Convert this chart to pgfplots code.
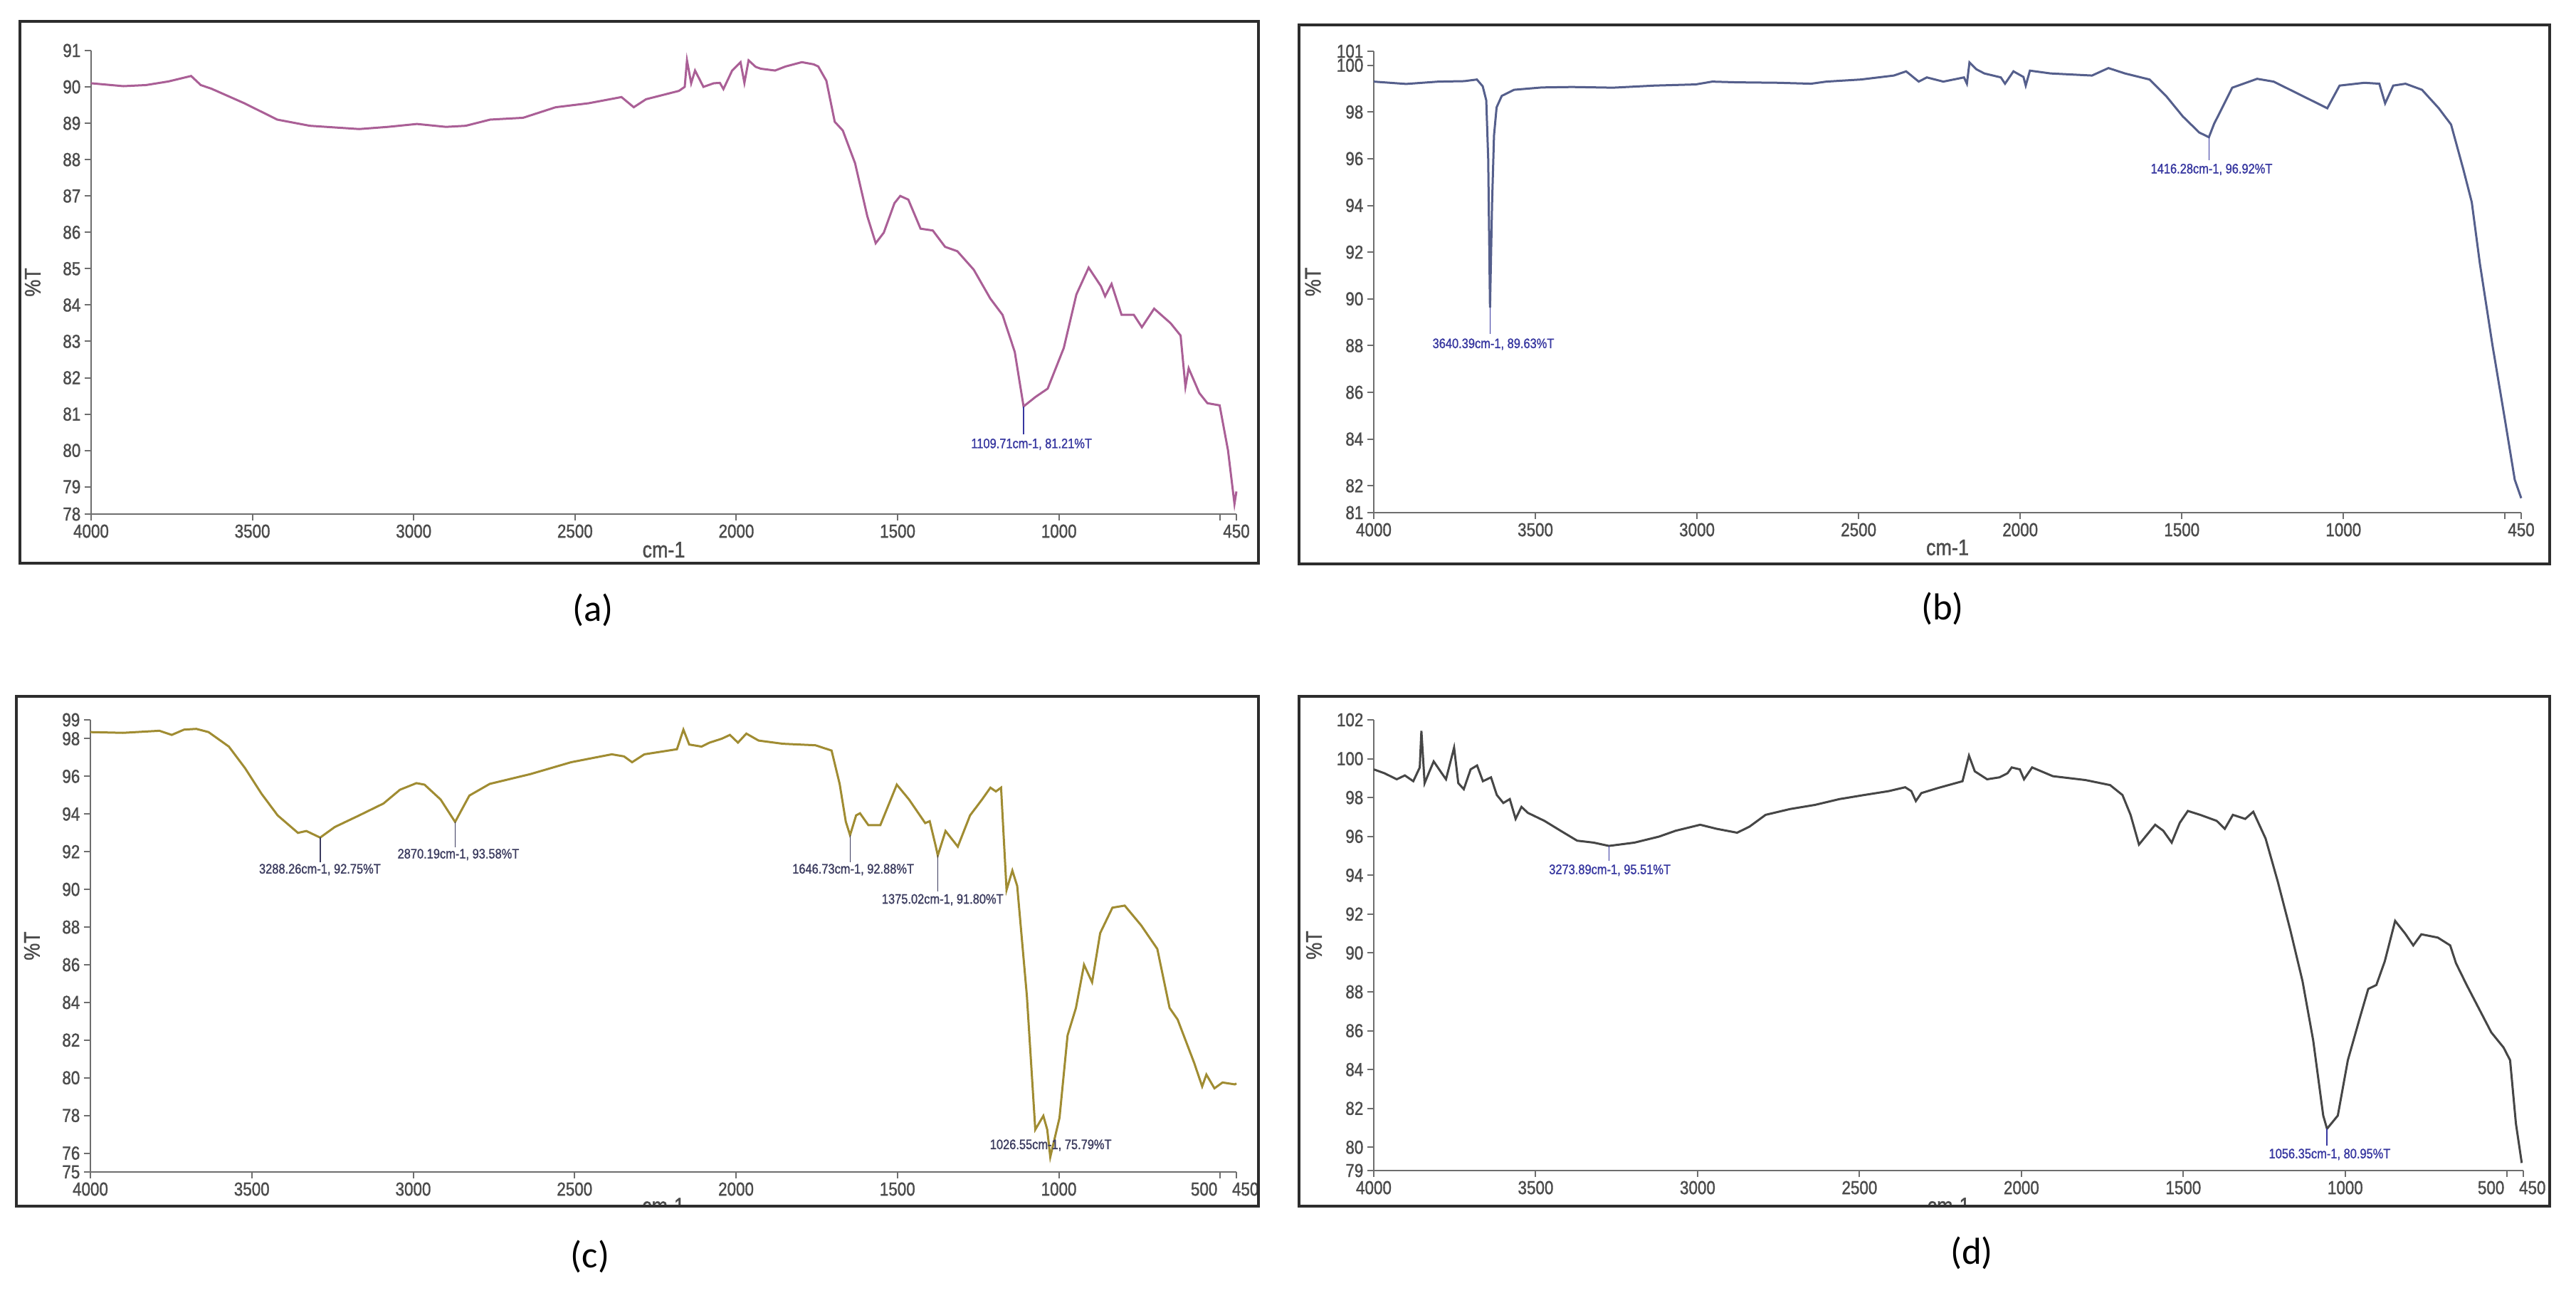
\documentclass[border=0pt]{standalone}
\usepackage{pgfplots}
\pgfplotsset{compat=1.18}
\usepackage{fontspec}
\setmainfont{Liberation Sans}
\newfontfamily\tickfont[FakeStretch=0.85,FakeBold=1.2]{Liberation Sans}
\newfontfamily\capfont{Carlito}

\definecolor{axgray}{RGB}{110,110,110}
\definecolor{tickgray}{RGB}{75,75,75}
\definecolor{framec}{RGB}{45,45,45}
\definecolor{annblue}{RGB}{55,55,160}
\definecolor{anngray}{RGB}{60,60,95}
\definecolor{ca}{RGB}{170,95,150}
\definecolor{cb}{RGB}{85,95,140}
\definecolor{cc}{RGB}{160,140,50}
\definecolor{cd}{RGB}{70,70,70}

\pgfplotsset{
  ir/.style={
    scale only axis, anchor=south west, clip=false,
    x dir=reverse, xmin=450, xmax=4000,
    axis x line*=bottom, axis y line*=left,
    axis line style={axgray, line width=0.25mm},
    tick align=outside, major tick length=0.9mm,
    tick style={axgray, line width=0.2mm},
    ticklabel style={font=\tickfont\fontsize{7.5}{8}\selectfont, text=tickgray, inner sep=0.5mm},
    /pgf/number format/assume math mode=true,
    xlabel={cm-1}, ylabel={\%T},
    label style={font=\tickfont\fontsize{9}{10}\selectfont, text=tickgray},
  },
}
\tikzset{ann/.style={font=\tickfont\fontsize{5.5}{6}\selectfont, text=annblue, inner sep=0pt}}

\begin{document}
\begin{tikzpicture}[x=1mm,y=1mm]
\path[use as bounding box] (0,0) rectangle (361.9,182.2);
\fill[white] (0,0) rectangle (361.9,182.2);

% (a)
\begin{axis}[ir, at={(12.8mm,110.0mm)}, width=160.9mm, height=65.1mm,
  ymin=78.25, ymax=91,
  ytick={78.25,79,80,81,82,83,84,85,86,87,88,89,90,91},
  yticklabels={78,79,80,81,82,83,84,85,86,87,88,89,90,91},
  xtick={450,500,1000,1500,2000,2500,3000,3500,4000},
  xticklabels={450,{},1000,1500,2000,2500,3000,3500,4000},
  xlabel style={at={(axis description cs:0.5,-0.077)}, anchor=center},
  ylabel style={at={(axis description cs:-0.051,0.5)}, anchor=center}]
\addplot[ca, line width=0.3mm] coordinates {
(4000,90.1) (3900,90.02) (3830,90.05) (3760,90.15) (3690,90.3) (3660,90.05)
(3627,89.95) (3525,89.55) (3423,89.1) (3322,88.93) (3169,88.84) (3080,88.9)
(2990,88.98) (2900,88.9) (2839,88.93) (2763,89.1) (2661,89.15) (2560,89.44)
(2458,89.55) (2356,89.72) (2318,89.44) (2280,89.66) (2178,89.89) (2160,90.0)
(2153,90.73) (2140,90.1) (2128,90.45) (2102,90.0) (2070,90.1) (2051,90.11)
(2040,89.94) (2013,90.45) (1987,90.68) (1975,90.11) (1962,90.73) (1940,90.55)
(1924,90.5) (1880,90.45) (1848,90.56) (1797,90.68) (1760,90.62) (1746,90.56)
(1721,90.17) (1695,89.04) (1670,88.8) (1632,87.9) (1594,86.44) (1568,85.7)
(1543,85.99) (1510,86.8) (1492,87.0) (1467,86.9) (1429,86.1) (1391,86.05)
(1353,85.6) (1315,85.48) (1264,84.97) (1213,84.18) (1175,83.73) (1137,82.71)
(1109.71,81.21) (1073,81.47) (1035,81.7) (985,82.82) (946,84.29) (908,85.03)
(870,84.52) (857,84.24) (837,84.58) (806,83.73) (768,83.73) (743,83.39)
(705,83.9) (654,83.5) (623,83.16) (608,81.75) (598,82.26) (565,81.58)
(540,81.3) (502,81.24) (476,80.0) (456,78.53) (450,78.87)
};
\addplot[annblue, line width=0.15mm] coordinates {(1109.71,81.21) (1109.71,80.45)};
\node[ann] at (axis cs:1085,80.17) {1109.71cm-1, 81.21\%T};
\end{axis}

% (b)
\begin{axis}[ir, at={(193.0mm,110.2mm)}, width=161.2mm, height=64.8mm,
  ymin=80.85, ymax=100.6,
  ytick={80.85,82,84,86,88,90,92,94,96,98,100,100.6},
  yticklabels={81,82,84,86,88,90,92,94,96,98,100,101},
  xtick={450,500,1000,1500,2000,2500,3000,3500,4000},
  xticklabels={450,{},1000,1500,2000,2500,3000,3500,4000},
  xlabel style={at={(axis description cs:0.5,-0.0756)}, anchor=center},
  ylabel style={at={(axis description cs:-0.053,0.5)}, anchor=center}]
\addplot[cb, line width=0.3mm] coordinates {
(4000,99.3) (3900,99.2) (3800,99.3) (3720,99.32) (3681,99.39) (3663,99.1)
(3652,98.5) (3646,96.0) (3640.39,89.63) (3634,94.1) (3628,97.0) (3620,98.2)
(3604,98.69) (3566,98.95) (3480,99.05) (3387,99.07) (3260,99.04) (3132,99.13)
(3004,99.18) (2953,99.3) (2876,99.27) (2749,99.25) (2647,99.21) (2600,99.3)
(2493,99.39) (2391,99.56) (2353,99.74) (2314,99.3) (2289,99.48) (2238,99.3)
(2174,99.48) (2165,99.21) (2157,100.12) (2136,99.83) (2111,99.65) (2060,99.48)
(2047,99.21) (2021,99.74) (1990,99.5) (1983,99.13) (1970,99.77) (1906,99.65)
(1778,99.56) (1727,99.88) (1676,99.65) (1600,99.39) (1549,98.69) (1497,97.81)
(1446,97.12) (1425,96.98) (1416.28,96.92) (1400,97.5) (1382,97.99) (1344,99.04)
(1267,99.42) (1216,99.3) (1114,98.6) (1050,98.16) (1012,99.13) (935,99.25)
(889,99.21) (871,98.37) (846,99.13) (808,99.21) (757,98.95) (705,98.16)
(667,97.46) (629,95.54) (603,94.14) (578,91.52) (539,88.02) (501,84.88)
(470,82.26) (450,81.47)
};
\addplot[annblue, line width=0.15mm] coordinates {(3640.39,89.63) (3640.39,88.5)};
\addplot[annblue, line width=0.15mm] coordinates {(1416.28,96.92) (1416.28,95.95)};
\node[ann] at (axis cs:3630,88.06) {3640.39cm-1, 89.63\%T};
\node[ann] at (axis cs:1408,95.54) {1416.28cm-1, 96.92\%T};
\end{axis}

% (c)
\begin{scope}
\clip (2.3,12.8) rectangle (176.8,84.4);
\begin{axis}[ir, at={(12.7mm,17.6mm)}, width=161.0mm, height=63.5mm,
  ymin=75, ymax=99,
  ytick={75,76,78,80,82,84,86,88,90,92,94,96,98,99},
  yticklabels={75,76,78,80,82,84,86,88,90,92,94,96,98,99},
  xtick={450,500,1000,1500,2000,2500,3000,3500,4000},
  xticklabels={\makebox[0pt][l]{\hspace{-0.6mm}450},\makebox[0pt][r]{500\hspace{0.4mm}},1000,1500,2000,2500,3000,3500,4000},
  xlabel style={at={(axis description cs:0.5,-0.075)}, anchor=center},
  ylabel style={at={(axis description cs:-0.051,0.5)}, anchor=center}]
\addplot[cc, line width=0.3mm] coordinates {
(4000,98.35) (3899,98.31) (3786,98.42) (3748,98.2) (3710,98.48) (3672,98.52)
(3634,98.35) (3571,97.58) (3521,96.44) (3470,95.08) (3420,93.93) (3357,93.0)
(3331,93.1) (3288.26,92.75) (3243,93.31) (3167,93.93) (3092,94.56) (3041,95.29)
(2990,95.64) (2965,95.56) (2915,94.77) (2870.19,93.58) (2826,94.98) (2763,95.6)
(2637,96.12) (2511,96.75) (2385,97.17) (2347,97.06) (2322,96.75) (2284,97.17)
(2183,97.44) (2163,98.48) (2145,97.69) (2107,97.58) (2082,97.79) (2044,98.0)
(2019,98.2) (1994,97.79) (1968,98.27) (1930,97.9) (1855,97.73) (1754,97.65)
(1704,97.37) (1679,95.6) (1660,93.6) (1646.73,92.88) (1628,93.93) (1616,94.04)
(1590,93.41) (1553,93.41) (1502,95.56) (1464,94.77) (1414,93.52) (1400,93.62)
(1381,92.27) (1375.02,91.8) (1351,93.1) (1313,92.27) (1275,93.93) (1238,94.77)
(1212,95.4) (1195,95.2) (1179,95.4) (1162,89.97) (1144,91.0) (1129,90.18)
(1099,84.34) (1073,77.25) (1048,77.98) (1036,77.25) (1026.55,75.79) (998,77.87)
(973,82.25) (947,83.71) (922,86.0) (897,85.07) (872,87.68) (834,89.03)
(796,89.14) (745,88.09) (695,86.84) (657,83.71) (632,83.09) (581,80.8)
(556,79.54) (543,80.17) (518,79.44) (493,79.75) (455,79.65) (450,79.7)
};
\addplot[anngray, line width=0.15mm] coordinates {(3288.26,92.75) (3288.26,91.45)};
\addplot[anngray, line width=0.15mm] coordinates {(2870.19,93.58) (2870.19,92.25)};
\addplot[anngray, line width=0.15mm] coordinates {(1646.73,92.88) (1646.73,91.45)};
\addplot[anngray, line width=0.15mm] coordinates {(1375.02,91.8) (1375.02,89.9)};
\node[ann, text=anngray] at (axis cs:3289,91.05) {3288.26cm-1, 92.75\%T};
\node[ann, text=anngray] at (axis cs:2860,91.85) {2870.19cm-1, 93.58\%T};
\node[ann, text=anngray] at (axis cs:1637,91.05) {1646.73cm-1, 92.88\%T};
\node[ann, text=anngray] at (axis cs:1360,89.45) {1375.02cm-1, 91.80\%T};
\node[ann, text=anngray] at (axis cs:1025,76.42) {1026.55cm-1, 75.79\%T};
\end{axis}
\end{scope}

% (d)
\begin{scope}
\clip (182.5,12.8) rectangle (358.2,84.4);
\begin{axis}[ir, at={(193.0mm,17.8mm)}, width=161.5mm, height=63.3mm,
  ymin=78.8, ymax=102,
  ytick={78.8,80,82,84,86,88,90,92,94,96,98,100,102},
  yticklabels={79,80,82,84,86,88,90,92,94,96,98,100,102},
  xtick={450,500,1000,1500,2000,2500,3000,3500,4000},
  xticklabels={\makebox[0pt][l]{\hspace{-0.6mm}450},\makebox[0pt][r]{500\hspace{0.4mm}},1000,1500,2000,2500,3000,3500,4000},
  xlabel style={at={(axis description cs:0.5,-0.078)}, anchor=center},
  ylabel style={at={(axis description cs:-0.052,0.5)}, anchor=center}]
\addplot[cd, line width=0.3mm] coordinates {
(4000,99.45) (3967,99.25) (3929,98.94) (3904,99.14) (3878,98.84) (3858,99.55)
(3853,101.43) (3843,98.74) (3828,99.35) (3815,99.86) (3790,99.25) (3777,98.94)
(3752,100.57) (3739,98.74) (3722,98.43) (3701,99.45) (3681,99.65) (3663,98.84)
(3638,99.04) (3620,98.13) (3600,97.72) (3580,97.92) (3562,96.9) (3544,97.52)
(3524,97.21) (3473,96.8) (3423,96.29) (3372,95.78) (3321,95.68) (3273.89,95.51)
(3195,95.68) (3119,95.99) (3068,96.29) (2992,96.6) (2941,96.39) (2878,96.19)
(2840,96.5) (2790,97.11) (2714,97.41) (2638,97.62) (2562,97.92) (2486,98.13)
(2410,98.33) (2359,98.53) (2340,98.33) (2326,97.82) (2309,98.23) (2258,98.49)
(2182,98.84) (2162,100.16) (2144,99.35) (2106,98.94) (2068,99.04) (2043,99.25)
(2030,99.55) (2005,99.45) (1992,98.94) (1967,99.55) (1903,99.1) (1802,98.9)
(1726,98.64) (1688,98.13) (1663,97.11) (1637,95.58) (1612,96.09) (1587,96.6)
(1562,96.29) (1536,95.68) (1511,96.7) (1486,97.31) (1448,97.11) (1397,96.8)
(1372,96.39) (1347,97.11) (1309,96.9) (1284,97.27) (1246,95.89) (1208,93.65)
(1170,91.2) (1132,88.55) (1099,85.5) (1068,81.63) (1056.35,80.95) (1023,81.63)
(992,84.48) (954,86.72) (929,88.15) (904,88.35) (878,89.57) (846,91.65)
(815,91.0) (790,90.39) (765,90.96) (714,90.79) (676,90.39) (658,89.47)
(625,88.35) (587,87.13) (549,85.91) (511,85.13) (491,84.48) (473,81.22)
(455,79.19)
};
\addplot[annblue, line width=0.15mm] coordinates {(3273.89,95.51) (3273.89,94.75)};
\addplot[annblue, line width=0.15mm] coordinates {(1056.35,80.95) (1056.35,80.1)};
\node[ann] at (axis cs:3271,94.26) {3273.89cm-1, 95.51\%T};
\node[ann] at (axis cs:1048,79.63) {1056.35cm-1, 80.95\%T};
\end{axis}
\end{scope}

% panel frames
\draw[framec, line width=0.35mm] (2.8,103.1) rectangle (176.8,179.2);
\draw[framec, line width=0.35mm] (182.5,103.0) rectangle (358.2,178.7);
\draw[framec, line width=0.35mm] (2.3,12.8) rectangle (176.8,84.4);
\draw[framec, line width=0.35mm] (182.5,12.8) rectangle (358.2,84.4);

% captions
\node[font=\capfont\fontsize{15}{18}\selectfont] at (83.3,96.5) {(a)};
\node[font=\capfont\fontsize{15}{18}\selectfont] at (272.9,96.7) {(b)};
\node[font=\capfont\fontsize{15}{18}\selectfont] at (82.9,5.7) {(c)};
\node[font=\capfont\fontsize{15}{18}\selectfont] at (277.0,6.2) {(d)};
\end{tikzpicture}
\end{document}
